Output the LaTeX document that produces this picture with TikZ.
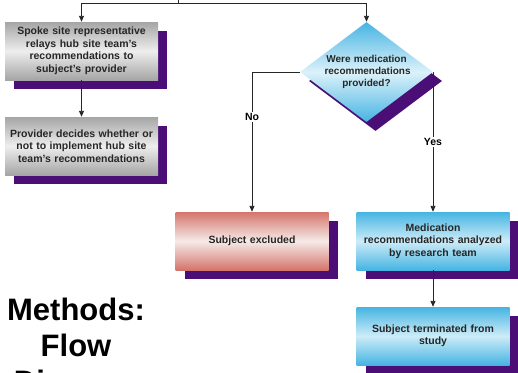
\documentclass[tikz,border=0pt]{standalone}
\usepackage{fontspec}
\setmainfont{Liberation Sans}
\usetikzlibrary{shapes.geometric, shadows, arrows.meta}

\definecolor{shadowpurple}{RGB}{74,14,118}
\definecolor{boxgrey}{RGB}{165,165,165}
\definecolor{boxgreylight}{RGB}{238,238,238}
\definecolor{boxblue}{RGB}{70,180,226}
\definecolor{boxbluelight}{RGB}{205,236,248}
\definecolor{boxred}{RGB}{212,117,107}
\definecolor{boxredlight}{RGB}{246,234,232}

\begin{document}
\begin{tikzpicture}[x=1pt, y=-1pt, every node/.style={font=\fontsize{10.5}{12.5}\selectfont\bfseries}]
  % -----------------------------
  % STYLES
  % -----------------------------
  \tikzset{
    box/.style={rectangle, minimum width=153pt, minimum height=58pt, inner sep=0pt,
                text width=150pt, align=center, text=black!85,
                general shadow={shadow xshift=9pt, shadow yshift=-9pt, fill=shadowpurple}},
    greybox/.style={box, top color=boxgrey, bottom color=boxgrey, middle color=boxgreylight},
    bluebox/.style={box, top color=boxblue, bottom color=boxblue, middle color=boxbluelight},
    redbox/.style={box, top color=boxred, bottom color=boxred, middle color=boxredlight},
    decision/.style={diamond, aspect=1.33, inner sep=0pt, minimum width=133pt, minimum height=100pt,
                text width=84pt, align=center, text=black!85,
                font=\fontsize{10}{12}\selectfont\bfseries,
                top color=boxblue, bottom color=boxblue, middle color=boxbluelight!70!white,
                general shadow={shadow xshift=9pt, shadow yshift=-9pt, fill=shadowpurple}},
    flow/.style={draw=black!85, line width=0.9pt, -{Triangle[length=6pt, width=5pt]}},
    link/.style={draw=black!85, line width=0.9pt},
    lbl/.style={fill=white, inner sep=1.5pt},
    title/.style={align=center, font=\fontsize{31}{36}\selectfont\bfseries},
  }

  % page
  \fill[white] (0,0) rectangle (518,372);
  \useasboundingbox (0,0) rectangle (518,372);

  % -----------------------------
  % BOXES
  % -----------------------------
  \node[greybox] (relay)  at (81.5,51)  {Spoke site representative\\relays hub site team's\\recommendations to\\subject's provider};
  \node[greybox] (decide) at (81.5,146) {Provider decides whether or\\not to implement hub site\\team's recommendations};
  \node[decision] (given) at (366.5,72) {Were medication\\recommendations\\provided?};
  \node[redbox]  (excl)   at (252,241)  {Subject excluded};
  \node[bluebox] (anal)   at (433,241)  {Medication\\recommendations analyzed\\by research team};
  \node[bluebox] (term)   at (433,336)  {Subject terminated from\\study};

  % -----------------------------
  % CONNECTORS
  % -----------------------------
  \coordinate (src)   at (178,-5);
  \coordinate (split) at (178,3.5);
  \draw[link] (src) -- (split);
  \draw[flow] (split) -| (relay.north);
  \draw[flow] (split) -| (given.north);
  \draw[flow] (relay.south) -- (decide.north);
  \draw[flow] (given.west) -| node[lbl, pos=0.66] {No} (excl.north);
  \draw[flow] (given.east) -| node[lbl, pos=0.75] {Yes} (anal.north);
  \draw[flow] (anal.south) -- (term.north);

  % Title
  \node[title, anchor=north] (heading) at (76,294) {Methods:\\Flow\\Diagram};
\end{tikzpicture}
\end{document}
